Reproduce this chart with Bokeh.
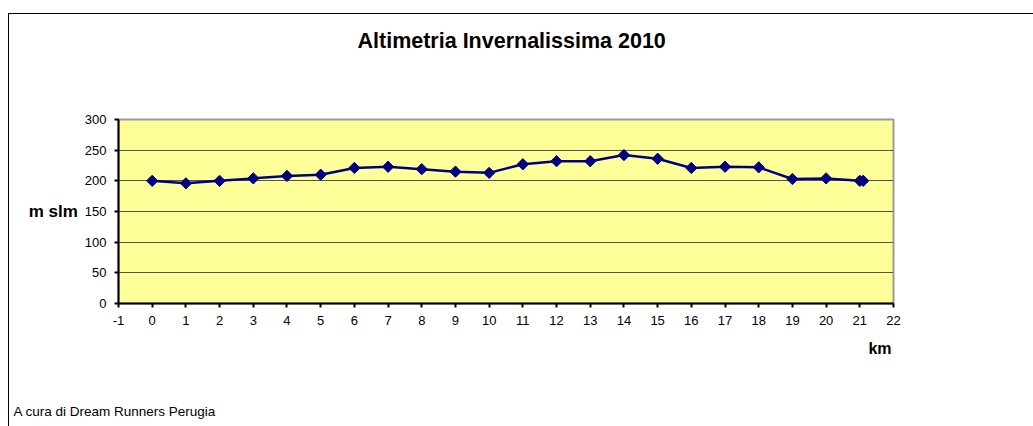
from bokeh.plotting import figure
from bokeh.models import Range1d, FixedTicker, PrintfTickFormatter, Title
from bokeh.embed import file_html
from bokeh.resources import INLINE
import math

title_text = "Altimetria Invernalissima 2010"
y_label_text = "m slm"
x_label_text = "km"
footer_text = "A cura di  Dream Runners Perugia"

km = [0, 1, 2, 3, 4, 5, 6, 7, 8, 9, 10, 11, 12, 13, 14, 15, 16, 17, 18, 19, 20, 21, 21.1]
alt = [200, 196, 200, 204, 208, 210, 221, 223, 219, 215, 213, 227, 232, 232, 242, 236,
       221, 223, 222, 203, 204, 200, 200]

x_ticks = list(range(-1, 23))
y_ticks = [0, 50, 100, 150, 200, 250, 300]

FONT = "Liberation Sans"

p = figure(width=1025, height=413, output_backend="svg", toolbar_location=None,
           x_range=Range1d(-1, 22), y_range=Range1d(0, 300),
           min_border_left=109, min_border_right=141, min_border_top=105,
           min_border_bottom=124)
p.styles = {"border-top": "1px solid #000000", "border-left": "1px solid #000000",
            "margin-top": "13px", "margin-left": "8px"}

p.background_fill_color = "#FFFF99"
p.border_fill_color = "#FFFFFF"
p.outline_line_color = "#999999"
p.outline_line_width = 2

# empty built-in title (no size)
p.title.text = ""
p.title.standoff = 0

def spacer(gap):
    return Title(text=" ", text_font_size="1px", standoff=gap, text_color="#FFFFFF")

# above: spacer nearest the frame, then the chart title
p.add_layout(spacer(62), "above")
p.add_layout(Title(text=title_text, align="left", offset=239, standoff=4,
                   text_font=FONT, text_font_size="21.5px", text_font_style="bold",
                   text_color="#000000"), "above")

p.xaxis.ticker = FixedTicker(ticks=x_ticks)
p.yaxis.ticker = FixedTicker(ticks=y_ticks)
p.xaxis.formatter = PrintfTickFormatter(format="%d")
p.yaxis.formatter = PrintfTickFormatter(format="%d")
for ax in (p.xaxis, p.yaxis):
    ax.axis_line_color = "#000000"
    ax.axis_line_width = 2
    ax.major_tick_line_color = "#000000"
    ax.major_tick_line_width = 2
    ax.major_tick_out = 4
    ax.major_tick_in = 0
    ax.minor_tick_line_color = None
    ax.major_label_text_font = FONT
    ax.major_label_text_font_size = "13px"
    ax.major_label_text_color = "#000000"
p.xaxis.major_label_standoff = 8
p.yaxis.major_label_standoff = 8

p.yaxis.axis_label = y_label_text
p.yaxis.axis_label_orientation = "horizontal"
p.yaxis.axis_label_text_font = FONT
p.yaxis.axis_label_text_font_size = "17px"
p.yaxis.axis_label_text_font_style = "bold"
p.yaxis.axis_label_text_color = "#000000"
p.yaxis.axis_label_standoff = 4

p.xgrid.grid_line_color = None
p.ygrid.grid_line_color = "#555555"
p.ygrid.grid_line_width = 1

p.line(km, alt, line_color="#000080", line_width=2.5)
p.scatter(km, alt, marker="square", angle=math.pi / 4, size=8,
          fill_color="#000080", line_color="#000080")

# below: x axis, then "km", then a spacer, then the footer
p.add_layout(Title(text=x_label_text, align="right", offset=2, standoff=20,
                   text_font=FONT, text_font_size="16px", text_font_style="bold",
                   text_color="#000000"), "below")
p.add_layout(spacer(31), "below")
p.add_layout(Title(text=footer_text, align="left", offset=-105, standoff=2,
                   text_font=FONT, text_font_size="13.5px", text_font_style="normal",
                   text_color="#000000"), "below")

open("out.html", "w").write(file_html(p, INLINE))
